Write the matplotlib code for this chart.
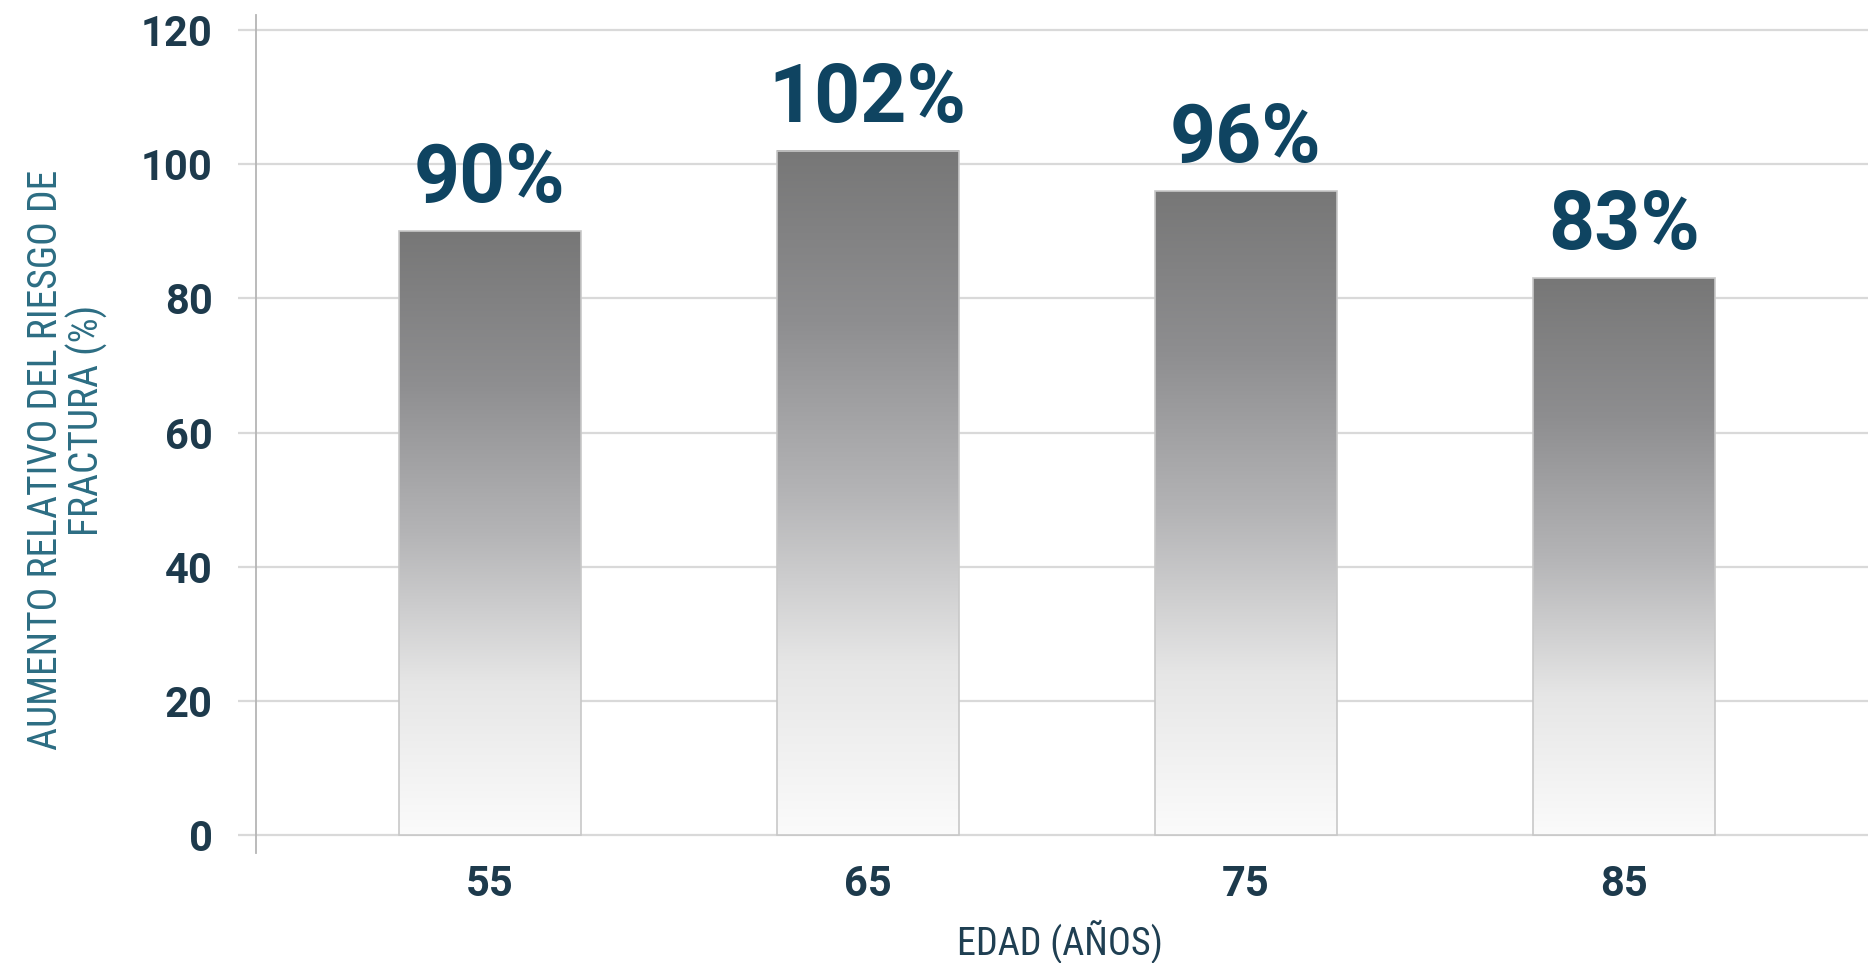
import numpy as np
import matplotlib
matplotlib.use("Agg")
import matplotlib.pyplot as plt
from matplotlib.colors import LinearSegmentedColormap

# data
edades = ["55", "65", "75", "85"]
aumento = [90, 102, 96, 83]
etiquetas = ["90%", "102%", "96%", "83%"]
y_ticks = [0, 20, 40, 60, 80, 100, 120]
y_titulo = ["AUMENTO RELATIVO DEL RIESGO DE", "FRACTURA (%)"]

NUM_FONT = ["Roboto", "DejaVu Sans"]
LAB_FONT = ["Roboto Condensed", "Roboto", "DejaVu Sans"]
plt.rcParams["font.family"] = NUM_FONT

NAVY = "#0f4461"
TICK = "#1d3a4c"
GRID = "#d9d9d9"

fig = plt.figure(figsize=(18.68, 9.63), dpi=100)
ax = fig.add_axes([0.137, 0.1142, 0.863, 0.8702])

x = np.arange(len(edades))
bars = ax.bar(x, aumento, width=0.48, facecolor="none", edgecolor="#c8c8c8",
              linewidth=1.2, zorder=3)

# vertical grey gradient inside each bar
cmap = LinearSegmentedColormap.from_list("g", ["#fbfbfb", "#e6e6e6", "#b4b4b6", "#8e8e90", "#777777"])
grad = np.linspace(0, 1, 256).reshape(-1, 1)
for b in bars:
    x0, w, h = b.get_x(), b.get_width(), b.get_height()
    ax.imshow(grad, extent=[x0, x0 + w, 0, h], origin="lower", aspect="auto",
              cmap=cmap, zorder=2, interpolation="bicubic")

for b, lab in zip(bars, etiquetas):
    ax.annotate(lab, (b.get_x() + b.get_width() / 2, b.get_height()),
                xytext=(0, 21), textcoords="offset points", ha="center", va="baseline",
                fontsize=58, fontweight="bold", color=NAVY, zorder=4)

ax.set_xlim(-0.619, 3.646)
ax.set_ylim(-2.68, 122.24)
ax.set_xticks(x)
ax.set_xticklabels(edades)
ax.set_yticks(y_ticks)

for v in y_ticks:
    ax.axhline(v, color=GRID, linewidth=1.6, zorder=1)

ax.tick_params(axis="y", length=13, width=1.6, color=GRID, pad=18,
               labelsize=30, labelcolor=TICK)
ax.tick_params(axis="x", length=0, pad=8, labelsize=30, labelcolor=TICK)
for lab in ax.get_xticklabels() + ax.get_yticklabels():
    lab.set_fontweight("bold")

for s in ["top", "right", "bottom"]:
    ax.spines[s].set_visible(False)
ax.spines["left"].set_color("#b5b5b5")
ax.spines["left"].set_linewidth(1.3)

ax.set_xlabel("EDAD (AÑOS)", fontsize=27.5, color="#1f3f52", family=LAB_FONT,
              va="center", ha="center")
ax.xaxis.set_label_coords(0.4988, -0.106)

# y title: two lines, the second one sits a bit higher (as in the original)
for txt, (tx, ty) in zip(y_titulo, [(-0.1303, 0.469), (-0.1048, 0.5167)]):
    ax.text(tx, ty, txt, transform=ax.transAxes, rotation=90, rotation_mode="anchor",
            ha="center", va="center", fontsize=28.5, color="#2c6d83", family=LAB_FONT)

fig.savefig("out.png", dpi=100)
